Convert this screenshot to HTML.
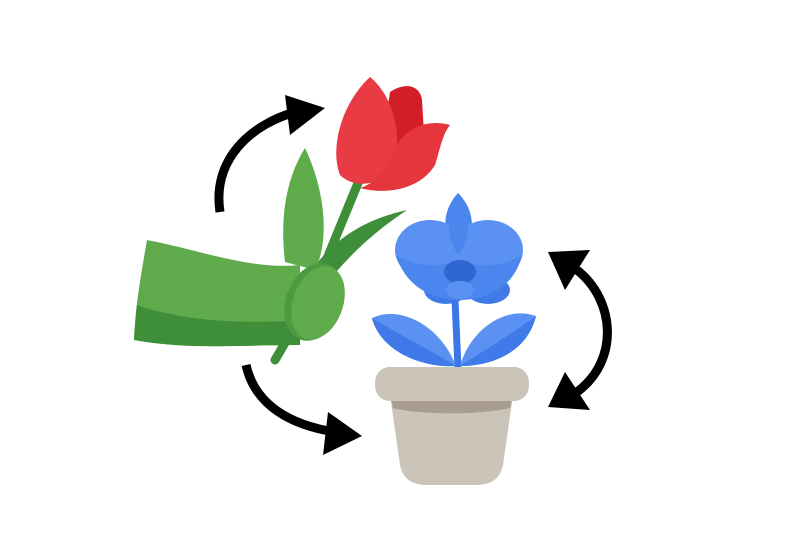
<!DOCTYPE html>
<html><head><style>body{margin:0;background:#fff}svg{display:block}</style></head><body>
<svg width="800" height="560" viewBox="0 0 800 560" xmlns="http://www.w3.org/2000/svg">
<rect width="800" height="560" fill="#fff"/>
<!-- arrows -->
<g fill="none" stroke="#000" stroke-width="9">
<path d="M220 212 C212 160 250 125 295 112"/>
<path d="M246 365 C255 405 290 425 335 432"/>
<path d="M577 270 C615 300 620 360 577 392"/>
</g>
<g fill="#000">
<polygon points="285,95 325,108 290,135"/>
<polygon points="328,412 362,436 323,455"/>
<polygon points="548,252 590,250 565,290"/>
<polygon points="548,407 590,410 565,372"/>
</g>
<!-- tulip stem -->
<path d="M275 360 L310 300 L358 183" stroke="#3f8f3a" stroke-width="9" fill="none" stroke-linecap="round"/>
<!-- upright leaf -->
<path d="M305 148 C325 190 330 240 315 270 L285 262 C280 220 285 180 305 148Z" fill="#5fab4c"/>
<!-- dark leaf -->
<path d="M407 210 C370 235 350 255 325 285 L318 262 C340 235 370 218 407 210Z" fill="#3f8f3a"/>
<!-- tulip -->
<path d="M390 92 C405 82 420 85 422 100 L425 150 L380 160Z" fill="#d21f27"/>
<path d="M370 77 C392 95 402 130 395 165 C385 185 355 190 340 175 C330 150 340 105 370 77Z" fill="#e83b43"/>
<path d="M450 125 C425 118 400 130 393 155 C385 175 370 185 360 188 C385 195 420 190 435 165 C440 150 442 135 450 125Z" fill="#e5353d"/>
<!-- sleeve -->
<path d="M147 240 C200 250 250 270 300 265 L300 345 C240 345 190 350 134 340 C135 310 140 280 147 240Z" fill="#5fab4c"/>
<path d="M137 305 C180 320 240 325 300 320 L300 345 C240 345 190 350 134 340Z" fill="#3f8f3a"/>
<ellipse cx="314" cy="302" rx="28" ry="40" transform="rotate(20 314 302)" fill="#4a9b3f"/>
<ellipse cx="318" cy="303" rx="25" ry="38" transform="rotate(20 318 303)" fill="#5fab4c"/>
<!-- orchid leaves & stem -->
<path d="M455 300 L458 368" stroke="#3b78e7" stroke-width="7"/>
<path d="M372 318 C400 305 440 325 456 366 C420 368 380 350 372 318Z" fill="#5a91f2"/>
<path d="M372 318 C400 335 430 350 456 366 C420 368 380 350 372 318Z" fill="#3f7ae8"/>
<path d="M536 316 C505 305 470 330 460 366 C495 366 528 350 536 316Z" fill="#5a91f2"/>
<path d="M536 316 C510 335 485 350 460 366 C495 366 528 350 536 316Z" fill="#3f7ae8"/>
<!-- orchid flower -->
<ellipse cx="446" cy="290" rx="22" ry="14" fill="#3f7ae8"/>
<ellipse cx="488" cy="290" rx="22" ry="14" fill="#3f7ae8"/>
<path d="M458 193 C475 210 478 235 458 262 C440 235 442 210 458 193Z" fill="#4a86ee"/>
<ellipse cx="430" cy="250" rx="35" ry="30" fill="#5a91f2"/>
<ellipse cx="488" cy="250" rx="35" ry="30" fill="#5a91f2"/>
<path d="M458 200 C470 215 472 235 458 255 C446 235 446 215 458 200Z" fill="#4a86ee"/>
<path d="M396 255 C420 270 450 265 458 260 L460 300 C430 300 405 285 396 255Z" fill="#4a86ee"/>
<path d="M522 255 C500 270 470 265 460 260 L458 300 C490 300 515 285 522 255Z" fill="#4a86ee"/>
<ellipse cx="460" cy="272" rx="16" ry="12" fill="#2f66cf"/>
<ellipse cx="460" cy="290" rx="14" ry="9" fill="#5a91f2"/>
<!-- pot -->
<path d="M390 395 L513 395 L503 465 C500 480 490 485 475 485 L428 485 C413 485 403 480 400 465Z" fill="#cbc4b9"/>
<path d="M390 395 L513 395 L510 408 C480 415 420 415 393 408Z" fill="#a99d91"/>
<rect x="375" y="367" width="154" height="34" rx="15" fill="#cbc4b9"/>
</svg>
</body></html>
